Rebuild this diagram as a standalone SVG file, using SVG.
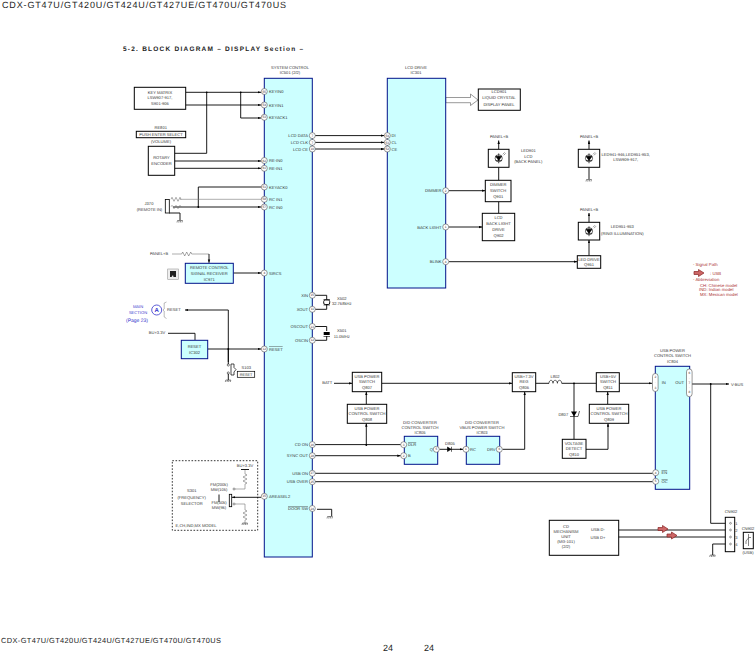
<svg xmlns="http://www.w3.org/2000/svg" width="755" height="654" viewBox="0 0 755 654">
<style>
text{font-family:"Liberation Sans",Arial,sans-serif;font-size:4.1px;fill:#333;text-anchor:middle;text-rendering:geometricPrecision}
.l{text-anchor:start}.r{text-anchor:end}
.box{fill:#fff;stroke:#000;stroke-width:1}
.ic{fill:#ccffff;stroke:#00128a;stroke-width:1}
.w{fill:none;stroke:#000;stroke-width:.9}
.a{fill:none;stroke:#000;stroke-width:.9;marker-end:url(#ah)}
.g{fill:none;stroke:#777;stroke-width:.6}
.p{fill:#fff;stroke:#555;stroke-width:.6}
.n{font-size:3.2px}
.red{fill:#a33;font-size:4.3px}
.blue{fill:#3333cc}
.rd{fill:#c66;stroke:#822;stroke-width:.7}
.t{fill:#222}
</style>
<defs>
<marker id="ah" markerWidth="4" markerHeight="4" refX="3.4" refY="1.5" orient="auto" markerUnits="userSpaceOnUse"><path d="M0 .3L3.4 1.5L0 2.7z" fill="#000"/></marker>
<g id="gnd"><path d="M-2.5 0H2.5M-2.5 0L-3 2M-.8 0L-1.3 2M.8 0L.3 2M2.5 0L2 2" fill="none" stroke="#222" stroke-width=".5"/></g>
<g id="led"><circle r="3.6" fill="none" stroke="#000" stroke-width=".6"/><path d="M-3 -2H3L0 2.2z M-3 2.2H3M0 -5V5" fill="#000" stroke="#000" stroke-width=".6"/><path d="M4 -4L6 -6M5 -3L7 -5" stroke="#000" stroke-width=".4"/></g>
<path id="zz" d="M0 0l1 -2l2 4l2 -4l2 4l2 -4l1 2" fill="none" stroke="#555" stroke-width=".5"/>
<path id="ra" d="M0 -1.500H4.500V-3.500L10 0L4.500 3.500V1.500H0z" class="rd"/>
</defs>
<g id="titles">
<text class="l t" x="2" y="8" style="font-size:9px" textLength="284" lengthAdjust="spacing">CDX-GT47U/GT420U/GT424U/GT427UE/GT470U/GT470US</text>
<text class="l t" x="123" y="51" style="font-size:6.500px;font-weight:bold" textLength="180" lengthAdjust="spacing">5-2.  BLOCK  DIAGRAM  – DISPLAY Section –</text>
<text class="l t" x="1" y="643" style="font-size:7.400px" textLength="220" lengthAdjust="spacing">CDX-GT47U/GT420U/GT424U/GT427UE/GT470U/GT470US</text>
<text class="t" x="388" y="651" style="font-size:9px">24</text><text class="t" x="429" y="651" style="font-size:9px">24</text>
</g>
<g id="connectors">
<path class="a" d="M185.700 92.300H261"/><path class="a" d="M185.700 105H261"/>
<path class="a" d="M240.700 92.300V118H261"/>
<path class="w" d="M174.700 153.300H206.700V92.300"/>
<path class="a" d="M174.700 161H261"/><path class="a" d="M174.700 168.300H261"/>
<path class="w" d="M261 187H198.300V207"/>
<path class="g" d="M180 199.300H261"/><path class="a" d="M173 207H261"/>
<path class="w" d="M169 213H180V220"/>
<path class="g" d="M172 254H181.700M191.700 254H209"/><path class="a" d="M209 254V262.800"/>
<path class="a" d="M233.300 273H261"/>
<path class="a" d="M228.300 362V310H185"/>
<path class="w" d="M168 333.300H195V340"/>
<path class="a" d="M207.700 349H261"/>
<path class="w" d="M228.300 349V365M228.300 373V380"/>
<path class="a" d="M315 135.600H384.300"/><path class="a" d="M315 142.400H384.300"/><path class="a" d="M315 149H384.300"/>
<path class="w" d="M315 295.300H326.700V299.500M315 309.300H326.700V305M315 326.500H326.700V331M315 340.300H326.700V336"/>
<path class="w" d="M315 444.600H400.700"/><path class="a" d="M315 455.700H400.700"/>
<path class="w" d="M315 473.300H652.700M315 481.700H652.700"/>
<path class="w" d="M317 509.300H331.700V516"/>
<path class="a" d="M334 383.300H352.300"/><path class="a" d="M381.700 383.300H512.300"/>
<path class="a" d="M366.300 404.300V391.700"/><path class="a" d="M366.300 445V423.300"/>
<path class="a" d="M439.500 449.300H463"/>
<path class="a" d="M502.500 449.300H524.700V391.700"/>
<path class="w" d="M535.700 383.300H549M561.700 383.300H596.300"/>
<path class="w" d="M574 383.300V439.300"/>
<path class="a" d="M586 449.300H608V423.300"/><path class="a" d="M607.700 404.300V391.700"/>
<path class="a" d="M619.300 383.300H652"/>
<path class="a" d="M692 384H729"/><path class="w" d="M710.700 384V523.300H729"/>
<path class="a" d="M612 530H729"/><path class="a" d="M612 537H729"/>
<path class="w" d="M729 544H712.700V555"/>
<path class="a" d="M449 190.700H485.300"/><path class="a" d="M449 227H482.300"/>
<path class="a" d="M449 261.700H577.300"/>
<path class="w" d="M498.700 180.300V167.300M498.700 213.300V201.700"/>
<path class="a" d="M498.700 149.300V140.500"/><path class="a" d="M589 149.300V140.500"/>
<path class="w" d="M589 167.300V179"/>
<path class="a" d="M589 222.300V213"/><path class="a" d="M589 255.700V240"/>
<path d="M445.700 97.500H470.500V94L478 100L470.500 105.500V102.700H445.700z" fill="#fff" stroke="#555" stroke-width=".6"/>
<path class="g" d="M245 470V474M245 484V489H235M235 504H245V510M245 520V523"/>
<path class="a" d="M261 497.300H232"/>
<path class="w" d="M219 494.500V502"/>
<path class="w" d="M241 469.500H249"/>
<path d="M206.700 92.300h.01M240.700 92.300h.01M198.300 207h.01M228.300 349h.01M366.300 445h.01M574 383.300h.01M710.700 384h.01" stroke="#000" stroke-width="1.800" stroke-linecap="round" fill="none"/>
</g>
<g id="legend">
<text class="l red" x="693" y="266">- Signal Path</text>
<use href="#ra" x="694" y="273"/>
<text class="l red" x="710" y="274.500">: USB</text>
<text class="l red" x="693" y="281">- Abbreviation</text>
<text class="l red" x="700" y="286.500">CH: Chinese model</text>
<text class="l red" x="699" y="291">IND: Indian model</text>
<text class="l red" x="700" y="296">MX: Mexican model</text>
<use href="#ra" x="658" y="529"/><use href="#ra" x="667" y="535.500"/>
</g>
<g id="ic501">
<rect class="ic" x="264.300" y="78.300" width="48" height="478.700"/>
<text x="290" y="68.500">SYSTEM CONTROL</text><text x="290" y="74">IC501 (2/2)</text>
<circle class="p" cx="264.300" cy="91.500" r="3"/><text class="n" x="264.300" y="92.600">55</text><text class="l" x="269" y="92.800">KEYIN0</text>
<circle class="p" cx="264.300" cy="105" r="3"/><text class="n" x="264.300" y="106.100">54</text><text class="l" x="269" y="106.500">KEYIN1</text>
<circle class="p" cx="264.300" cy="117.300" r="3"/><text class="n" x="264.300" y="118.400">53</text><text class="l" x="269" y="118.800">KEYACK1</text>
<circle class="p" cx="264.300" cy="160.500" r="3"/><text class="n" x="264.300" y="161.600">62</text><text class="l" x="269" y="161.800">RE-IN0</text>
<circle class="p" cx="264.300" cy="168.300" r="3"/><text class="n" x="264.300" y="169.400">61</text><text class="l" x="269" y="169.800">RE-IN1</text>
<circle class="p" cx="264.300" cy="187" r="3"/><text class="n" x="264.300" y="188.100">51</text><text class="l" x="269" y="188.500">KEYACK0</text>
<circle class="p" cx="264.300" cy="199.300" r="3"/><text class="n" x="264.300" y="200.400">58</text><text class="l" x="269" y="200.800">RC IN1</text>
<circle class="p" cx="264.300" cy="207" r="3"/><text class="n" x="264.300" y="208.100">57</text><text class="l" x="269" y="208.500">RC IN0</text>
<circle class="p" cx="264.300" cy="273" r="3"/><text class="n" x="264.300" y="274.100">4</text><text class="l" x="269" y="274.500">SIRCS</text>
<circle class="p" cx="264.300" cy="349" r="3"/><text class="n" x="264.300" y="350.100">12</text><text class="l" x="269" y="350.500" text-decoration="overline">RESET</text>
<circle class="p" cx="264.300" cy="496.300" r="3"/><text class="n" x="264.300" y="497.400">15</text><text class="l" x="269" y="497.800">AREASEL2</text>
<circle class="p" cx="312.300" cy="135.600" r="3"/><text class="n" x="312.300" y="136.700">7</text><text class="r" x="308" y="137">LCD DATA</text>
<circle class="p" cx="312.300" cy="142.400" r="3"/><text class="n" x="312.300" y="143.500">7</text><text class="r" x="308" y="143.800">LCD CLK</text>
<circle class="p" cx="312.300" cy="149" r="3"/><text class="n" x="312.300" y="150.100">10</text><text class="r" x="308" y="150.500">LCD CE</text>
<circle class="p" cx="312.300" cy="295.300" r="3"/><text class="n" x="312.300" y="296.400">15</text><text class="r" x="308" y="296.800">XIN</text>
<circle class="p" cx="312.300" cy="309.300" r="3"/><text class="n" x="312.300" y="310.400">11</text><text class="r" x="308" y="310.800">XOUT</text>
<circle class="p" cx="312.300" cy="326.500" r="3"/><text class="n" x="312.300" y="327.600">13</text><text class="r" x="308" y="328">OSCOUT</text>
<circle class="p" cx="312.300" cy="340.300" r="3"/><text class="n" x="312.300" y="341.400">12</text><text class="r" x="308" y="341.800">OSCIN</text>
<circle class="p" cx="312.300" cy="444.600" r="3"/><text class="n" x="312.300" y="445.700">16</text><text class="r" x="308" y="446">CD ON</text>
<circle class="p" cx="312.300" cy="455.700" r="3"/><text class="n" x="312.300" y="456.800">28</text><text class="r" x="308" y="457">SYNC OUT</text>
<circle class="p" cx="312.300" cy="473.300" r="3"/><text class="n" x="312.300" y="474.400">27</text><text class="r" x="308" y="474.500">USB ON</text>
<circle class="p" cx="312.300" cy="481.700" r="3"/><text class="n" x="312.300" y="482.800">25</text><text class="r" x="308" y="483">USB OVER</text>
<circle class="p" cx="312.300" cy="508.500" r="3"/><text class="n" x="312.300" y="509.600">24</text><text class="r" x="308" y="510" text-decoration="overline">DOOR SW</text>
</g>
<g id="ic301">
<rect class="ic" x="387.300" y="78.300" width="58.400" height="209.700"/>
<text x="416" y="68.500">LCD DRIVE</text><text x="416" y="74">IC301</text>
<circle class="p" cx="387.300" cy="135.600" r="3"/><text class="n" x="387.300" y="136.700">54</text><text class="l" x="391.500" y="137">DI</text>
<circle class="p" cx="387.300" cy="142.400" r="3"/><text class="n" x="387.300" y="143.500">53</text><text class="l" x="391.500" y="143.800">CL</text>
<circle class="p" cx="387.300" cy="149" r="3"/><text class="n" x="387.300" y="150.100">52</text><text class="l" x="391.500" y="150.500">CE</text>
<circle class="p" cx="445.700" cy="190.700" r="3"/><text class="n" x="445.700" y="191.800">2</text><text class="r" x="441.500" y="192">DIMMER</text>
<circle class="p" cx="445.700" cy="227" r="3"/><text class="n" x="445.700" y="228.100">1</text><text class="r" x="441.500" y="228.500">BACK LIGHT</text>
<circle class="p" cx="445.700" cy="261.700" r="3"/><text class="n" x="445.700" y="262.800">4</text><text class="r" x="441.500" y="263">BLINK</text>
</g>
<g id="key-matrix"><rect class="box" x="134.300" y="87.300" width="51.400" height="22"/><text x="160" y="93.500">KEY MATRIX</text><text x="160" y="99">LSW907-917,</text><text x="160" y="104.500">S901-906</text></g>
<g id="re801"><text x="160.700" y="128.500">RE801</text><rect class="box" x="136.300" y="131.300" width="49.400" height="6.400"/><text x="161" y="136">PUSH ENTER SELECT</text><text x="161" y="143">(VOLUME)</text></g>
<g id="rotary"><rect class="box" x="148.300" y="146.300" width="26.400" height="29"/><text x="161.500" y="158.800">ROTARY</text><text x="161.500" y="164.500">ENCODER</text></g>
<g id="j370"><rect class="box" x="165.300" y="199.500" width="4" height="13.500" style="stroke-width:.8"/><use href="#zz" x="171" y="199.300"/><use href="#zz" x="171" y="207" style="opacity:.6"/><text x="149" y="204.500">J370</text><text x="149.500" y="210.500">(REMOTE IN)</text><use href="#gnd" x="180" y="220.500"/></g>
<g id="remote"><text x="159" y="254.500">PANEL+B</text><use href="#zz" x="181.700" y="254"/><rect class="ic" x="185.300" y="263.300" width="48" height="20"/><text x="209.300" y="269">REMOTE CONTROL</text><text x="209.300" y="274.800">SIGNAL RECEIVER</text><text x="209.300" y="280.500">IC971</text><rect x="167.700" y="269" width="10.600" height="10.300" fill="#eee" stroke="#999" stroke-width=".6"/><path d="M170 271H176V277H173.500L173 275L171.500 277H170z" fill="#222"/></g>
<g id="main-section"><text class="blue" x="138" y="307.500">MAIN</text><text class="blue" x="138" y="313.500">SECTION</text><text class="blue" x="137" y="321.500" style="font-size:5px">(Page 23)</text><circle cx="156.700" cy="310" r="5" fill="#fff" stroke="#3333cc" stroke-width=".8"/><text class="blue" x="156.700" y="312.200" style="font-size:6px;font-weight:bold">A</text><path d="M166.500 302L164.200 303V309L163 310L164.200 311V317L166.500 318.500" fill="none" stroke="#777" stroke-width=".5"/><text class="l" x="167" y="311">RESET</text></g>
<g id="ic302"><text x="157" y="333.500">BU+3.3V</text><rect class="ic" x="181.300" y="340.300" width="26.400" height="18.400"/><text x="194.500" y="348">RESET</text><text x="194.500" y="354">IC302</text></g>
<g id="s103"><circle cx="228.300" cy="365" r="1.100" fill="#fff" stroke="#000" stroke-width=".5"/><circle cx="228.300" cy="373" r="1.100" fill="#fff" stroke="#000" stroke-width=".5"/><path d="M231 364H234V367.500L236 369.500L234 372V375H231z" fill="none" stroke="#000" stroke-width=".7"/><text x="246.300" y="368.500">S103</text><rect class="box" x="237.300" y="371.300" width="17.400" height="6" style="stroke-width:.7"/><text x="246" y="375.800" style="font-size:3.800px">RESET</text><use href="#gnd" x="228.300" y="380"/></g>
<g id="x502"><rect x="323.700" y="300" width="6" height="4.500" rx="1.500" fill="#fff" stroke="#000" stroke-width=".9"/><path d="M323.500 299.500H330M323.500 305H330" stroke="#000" stroke-width=".6"/><text x="341.700" y="299.500">X502</text><text x="341.700" y="305">32.768kHz</text></g>
<g id="x501"><rect x="323.700" y="332" width="6" height="3" fill="#000"/><path d="M323.500 336.500H330" stroke="#000" stroke-width=".6"/><text x="341.700" y="331.500">X501</text><text x="341.700" y="337.500">11.0MHz</text></g>
<g id="s301"><rect x="172.300" y="460.700" width="85.400" height="69.600" fill="none" stroke="#000" stroke-width=".8" stroke-dasharray="1.600 1.600"/><text x="191.700" y="492">S301</text><text x="191.700" y="498.500">(FREQUENCY)</text><text x="191.700" y="504.500">SELECTOR</text><text x="196" y="526.500">E,CH,IND,MX MODEL</text><text x="245" y="466.500">BU+3.3V</text><use href="#zz" x="245" y="474" transform="rotate(90 245 474)"/><use href="#zz" x="245" y="510" transform="rotate(90 245 510)"/><use href="#gnd" x="245" y="523"/><rect x="229.300" y="494.300" width="2.400" height="12.400" fill="#fff" stroke="#000" stroke-width=".8"/><text x="219" y="486">FM(200k)</text><text x="219" y="491">MW(10k)</text><text x="219" y="503.500">FM(50k)</text><text x="219" y="508.500">MW(9k)</text><circle cx="234" cy="489" r="1" fill="#fff" stroke="#333" stroke-width=".5"/><circle cx="234" cy="504" r="1" fill="#fff" stroke="#333" stroke-width=".5"/></g>
<g id="door"><use href="#gnd" x="330" y="516.500"/></g>
<g id="lcd901"><rect class="box" x="478.300" y="89" width="42" height="21.300"/><text x="499" y="93">LCD901</text><text x="499" y="99">LIQUID CRYSTAL</text><text x="499" y="105.500">DISPLAY PANEL</text></g>
<g id="led901"><text x="499" y="137.500">PANEL+B</text><rect class="box" x="488.300" y="149.300" width="20.700" height="18"/><use href="#led" x="498.700" y="158.300"/><text x="528.300" y="151.500">LED901</text><text x="528.300" y="157.500">LCD</text><text x="528.300" y="163">(BACK PANEL)</text></g>
<g id="q901"><rect class="box" x="485.300" y="180.300" width="25.700" height="21.400"/><text x="498.200" y="185.500">DIMMER</text><text x="498.200" y="192">SWITCH</text><text x="498.200" y="198">Q901</text></g>
<g id="q902"><rect class="box" x="482.300" y="213.300" width="32.400" height="27.400"/><text x="498.500" y="218.500">LCD</text><text x="498.500" y="224.500">BACK LIGHT</text><text x="498.500" y="230.500">DRIVE</text><text x="498.500" y="236.500">Q902</text></g>
<g id="led941"><text x="589" y="137.500">PANEL+B</text><rect class="box" x="578.300" y="149.300" width="21.400" height="18"/><use href="#led" x="589" y="158.300"/><text x="625.700" y="156">LED941-946,LED951-953,</text><text x="625.700" y="161">LSW909-917,</text><use href="#gnd" x="589" y="179.500"/></g>
<g id="led951"><text x="589" y="210.500">PANEL+B</text><rect class="box" x="578.300" y="222.300" width="21.400" height="17.700"/><use href="#led" x="589" y="231.200"/><text x="622.300" y="228">LED951-953</text><text x="622.300" y="234.500">(RING ILLUMINATION)</text></g>
<g id="q951"><rect class="box" x="577.300" y="255.700" width="23.400" height="12.600"/><text x="589" y="260.800">LED DRIVE</text><text x="589" y="266.300">Q951</text></g>
<g id="q807"><text x="327.300" y="384">BATT</text><rect class="box" x="352.300" y="372.300" width="29.400" height="19.400"/><text x="367" y="377.500">USB POWER</text><text x="367" y="382.800">SWITCH</text><text x="367" y="389">Q807</text></g>
<g id="q808"><rect class="box" x="347.300" y="404.300" width="39.400" height="19"/><text x="367" y="409.500">USB POWER</text><text x="367" y="415">CONTROL SWITCH</text><text x="367" y="421">Q808</text></g>
<g id="ic805"><text x="420" y="423.500">D/D CONVERTER</text><text x="420" y="428.500">CONTROL SWITCH</text><text x="420" y="433.500">IC805</text><rect class="ic" x="404.300" y="436.300" width="33.400" height="28"/><circle class="p" cx="403.700" cy="444.700" r="3"/><text class="n" x="403.700" y="445.800">3</text><text class="l" x="408" y="446" text-decoration="overline">DLR</text><circle class="p" cx="403.700" cy="455.700" r="3"/><text class="n" x="403.700" y="456.800">2</text><text class="l" x="408" y="457">B</text><circle class="p" cx="436.300" cy="449.300" r="3"/><text class="n" x="436.300" y="450.400">5</text><text class="r" x="433" y="451">Q</text></g>
<g id="d805"><text x="450" y="444.500">D805</text><path d="M447.500 447V451.500L451 449.300zM451.500 446.800V451.800" fill="#000" stroke="#000" stroke-width=".6"/></g>
<g id="ic803"><text x="482" y="423.500">D/D CONVERTER</text><text x="482" y="428.500">VBUS POWER SWITCH</text><text x="482" y="433.500">IC803</text><rect class="ic" x="466.300" y="436.300" width="33.400" height="28"/><circle class="p" cx="466" cy="449.300" r="3"/><text class="n" x="466" y="450.400">1</text><text class="l" x="470" y="451">RC</text><circle class="p" cx="499.300" cy="449.300" r="3"/><text class="n" x="499.300" y="450.400">6</text><text class="r" x="495.500" y="451">DRV</text></g>
<g id="q806"><rect class="box" x="512.300" y="372.700" width="23.400" height="19"/><text x="524" y="377.500">USB+7.3V</text><text x="524" y="382.800">REG</text><text x="524" y="389">Q806</text></g>
<g id="l802"><text x="555" y="377.500">L802</text><path d="M549 383.300c0 -4 4 -4 4 0c0 -4 4.400 -4 4.400 0c0 -4 4.300 -4 4.300 0" fill="none" stroke="#000" stroke-width=".6"/></g>
<g id="d807"><text x="563.300" y="415.500">D807</text><path d="M571 411.500H577L574 416.500z" fill="#000"/><path d="M570 416.500H578M578 416.500L579.500 411" stroke="#000" stroke-width=".6" fill="none"/></g>
<g id="q810"><rect class="box" x="562.300" y="439.300" width="23.700" height="19"/><text x="574" y="444.500">VOLTAGE</text><text x="574" y="449.500">DETECT</text><text x="574" y="456">Q810</text></g>
<g id="q811"><rect class="box" x="596.300" y="372.700" width="23" height="19"/><text x="608" y="377.500">USB+5V</text><text x="608" y="382.800">SWITCH</text><text x="608" y="389">Q811</text></g>
<g id="q809"><rect class="box" x="589.300" y="404.300" width="39.400" height="19"/><text x="609" y="409.500">USB POWER</text><text x="609" y="415">CONTROL SWITCH</text><text x="609" y="421">Q809</text></g>
<g id="ic804"><text x="672.500" y="351.500">USB POWER</text><text x="672.500" y="357">CONTROL SWITCH</text><text x="672.500" y="363">IC804</text><rect class="ic" x="655.300" y="366.300" width="34.400" height="123"/>
<rect class="p" x="652.500" y="373.500" width="5.600" height="18" rx="2.800"/><text class="n" x="655.300" y="378">2</text><text class="n" x="655.300" y="383">·</text><text class="n" x="655.300" y="389">3</text>
<rect class="p" x="686.500" y="369" width="5.600" height="27.700" rx="2.800"/><text class="n" x="689.300" y="373.500">6</text><text class="n" x="689.300" y="379">·</text><text class="n" x="689.300" y="383.500">7</text><text class="n" x="689.300" y="388">·</text><text class="n" x="689.300" y="393">8</text>
<text x="663.700" y="383.500">IN</text><text x="679.700" y="383.500">OUT</text>
<circle class="p" cx="655.700" cy="472.700" r="3"/><text class="n" x="655.700" y="473.800">4</text><text class="l" x="661.500" y="474.300" text-decoration="overline">EN</text>
<circle class="p" cx="655.700" cy="481.300" r="3"/><text class="n" x="655.700" y="482.400">5</text><text class="l" x="661.500" y="483" text-decoration="overline">OC</text></g>
<g id="vbus"><text class="l" x="731" y="385.500">V-BUS</text></g>
<g id="cd-mech"><rect class="box" x="549.300" y="520.300" width="69.400" height="35"/><text x="566" y="528">CD</text><text x="566" y="533">MECHANISM</text><text x="566" y="537.500">UNIT</text><text x="566" y="543">(MG-101)</text><text x="566" y="548">(2/2)</text><text x="598" y="530.500">USB D-</text><text x="598" y="538.500">USB D+</text></g>
<g id="cn902-a"><text x="731" y="513">CN902</text><rect class="box" x="725.300" y="517.300" width="9.400" height="34.400"/><circle class="p" cx="730.500" cy="523.300" r=".9"/><circle class="p" cx="730.500" cy="530" r=".9"/><circle class="p" cx="730.500" cy="537" r=".9"/><circle class="p" cx="730.500" cy="544" r=".9"/><text x="736.500" y="525">1</text><text x="736.500" y="531.500">2</text><text x="736.500" y="538.500">3</text><text x="736.500" y="545.500">4</text><use href="#gnd" x="712.700" y="555"/></g>
<g id="cn902-b"><text x="748" y="529.500">CN902</text><rect class="box" x="743.300" y="532.300" width="10" height="16.400"/><path d="M748.500 534V546M748.500 538L746 541V544M748.500 537.500H751" fill="none" stroke="#333" stroke-width=".6"/><text x="748" y="553.500">(USB)</text></g>
</svg>
